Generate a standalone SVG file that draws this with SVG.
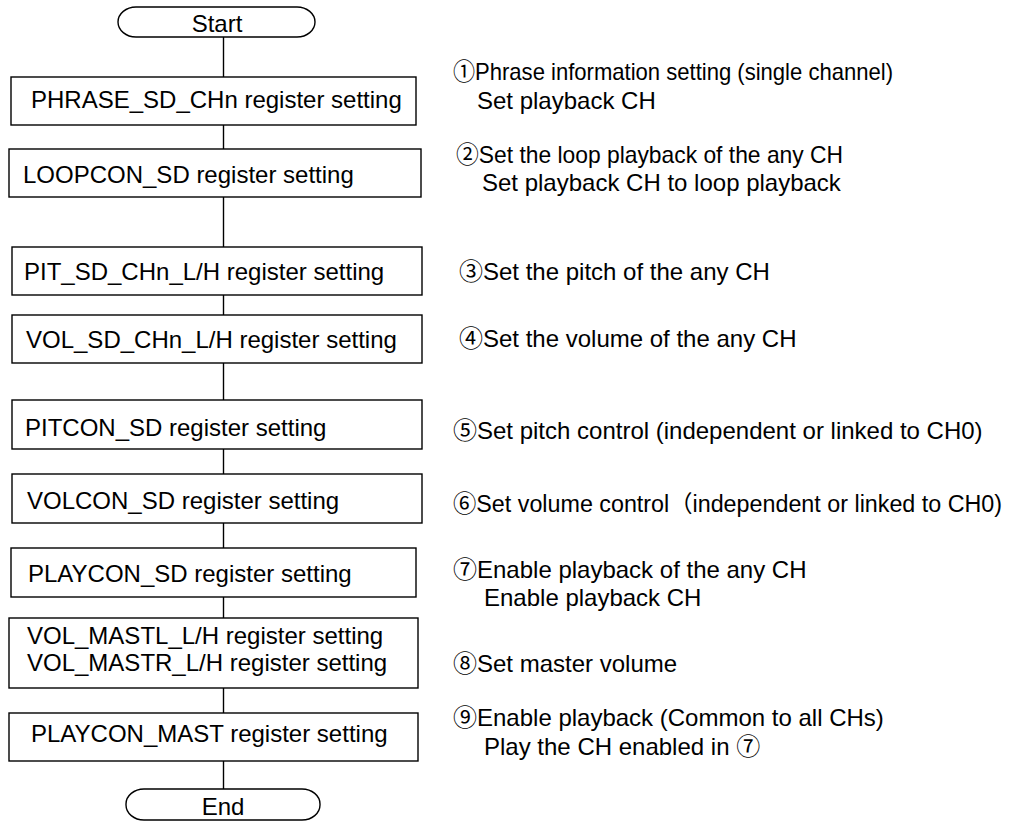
<svg xmlns="http://www.w3.org/2000/svg" width="1016" height="822" viewBox="0 0 1016 822">
<style>
.bx{fill:#fff;stroke:#000;stroke-width:1.4}
.ln{stroke:#000;stroke-width:1.4;fill:none}
.t{font-family:"Liberation Sans","Noto Sans CJK JP",sans-serif;font-size:24px;fill:#000}
.c{text-anchor:middle}
</style>
<rect width="1016" height="822" fill="#fff"/>
<g id="connectors">
<line class="ln" x1="223.5" y1="37" x2="223.5" y2="77"/>
<line class="ln" x1="223.5" y1="125" x2="223.5" y2="149"/>
<line class="ln" x1="223.5" y1="197" x2="223.5" y2="247"/>
<line class="ln" x1="223.5" y1="295" x2="223.5" y2="315"/>
<line class="ln" x1="223.5" y1="363" x2="223.5" y2="400"/>
<line class="ln" x1="223.5" y1="449" x2="223.5" y2="474"/>
<line class="ln" x1="223.5" y1="523" x2="223.5" y2="548"/>
<line class="ln" x1="223.5" y1="597" x2="223.5" y2="618"/>
<line class="ln" x1="223.5" y1="688" x2="223.5" y2="713"/>
<line class="ln" x1="223.5" y1="761" x2="223.5" y2="789"/>
</g>
<g id="start">
<rect class="bx" x="118" y="7" width="197" height="30" rx="18" ry="15"/>
<text class="t c" x="217" y="32">Start</text>
</g>
<g id="n1">
<rect class="bx" x="11" y="77" width="405" height="48"/>
<text class="t" x="31" y="108">PHRASE_SD_CHn register setting</text>
</g>
<g id="n2">
<rect class="bx" x="9" y="149" width="412" height="48"/>
<text class="t" x="23" y="183">LOOPCON_SD register setting</text>
</g>
<g id="n3">
<rect class="bx" x="12" y="247" width="410" height="48"/>
<text class="t" x="24" y="280">PIT_SD_CHn_L/H register setting</text>
</g>
<g id="n4">
<rect class="bx" x="12" y="315" width="410" height="48"/>
<text class="t" x="26" y="348">VOL_SD_CHn_L/H register setting</text>
</g>
<g id="n5">
<rect class="bx" x="12" y="400" width="410" height="49"/>
<text class="t" x="25" y="436">PITCON_SD register setting</text>
</g>
<g id="n6">
<rect class="bx" x="12" y="474" width="410" height="49"/>
<text class="t" x="27" y="509">VOLCON_SD register setting</text>
</g>
<g id="n7">
<rect class="bx" x="11" y="548" width="405" height="49"/>
<text class="t" x="28" y="582">PLAYCON_SD register setting</text>
</g>
<g id="n8">
<rect class="bx" x="9" y="618" width="409" height="70"/>
<text class="t" x="27" y="644">VOL_MASTL_L/H register setting</text>
<text class="t" x="27" y="671">VOL_MASTR_L/H register setting</text>
</g>
<g id="n9">
<rect class="bx" x="9" y="713" width="409" height="48"/>
<text class="t" x="31" y="742">PLAYCON_MAST register setting</text>
</g>
<g id="end">
<rect class="bx" x="126" y="789" width="194" height="31" rx="18" ry="15"/>
<text class="t c" x="223" y="815">End</text>
</g>
<g id="notes">
<text class="t" x="453" y="80" textLength="440" lengthAdjust="spacingAndGlyphs">①Phrase information setting (single channel)</text>
<text class="t" x="477" y="109">Set playback CH</text>
<text class="t" x="456" y="163" textLength="387" lengthAdjust="spacingAndGlyphs">②Set the loop playback of the any CH</text>
<text class="t" x="482" y="191">Set playback CH to loop playback</text>
<text class="t" x="459" y="280">③Set the pitch of the any CH</text>
<text class="t" x="459" y="347">④Set the volume of the any CH</text>
<text class="t" x="453" y="439">⑤Set pitch control (independent or linked to CH0)</text>
<text class="t" x="453" y="512" style="font-size:23.3px">⑥Set volume control（independent or linked to CH0)</text>
<text class="t" x="453" y="578">⑦Enable playback of the any CH</text>
<text class="t" x="484" y="606">Enable playback CH</text>
<text class="t" x="453" y="672">⑧Set master volume</text>
<text class="t" x="453" y="726">⑨Enable playback (Common to all CHs)</text>
<text class="t" x="484" y="755">Play the CH enabled in ⑦</text>
</g>
</svg>
